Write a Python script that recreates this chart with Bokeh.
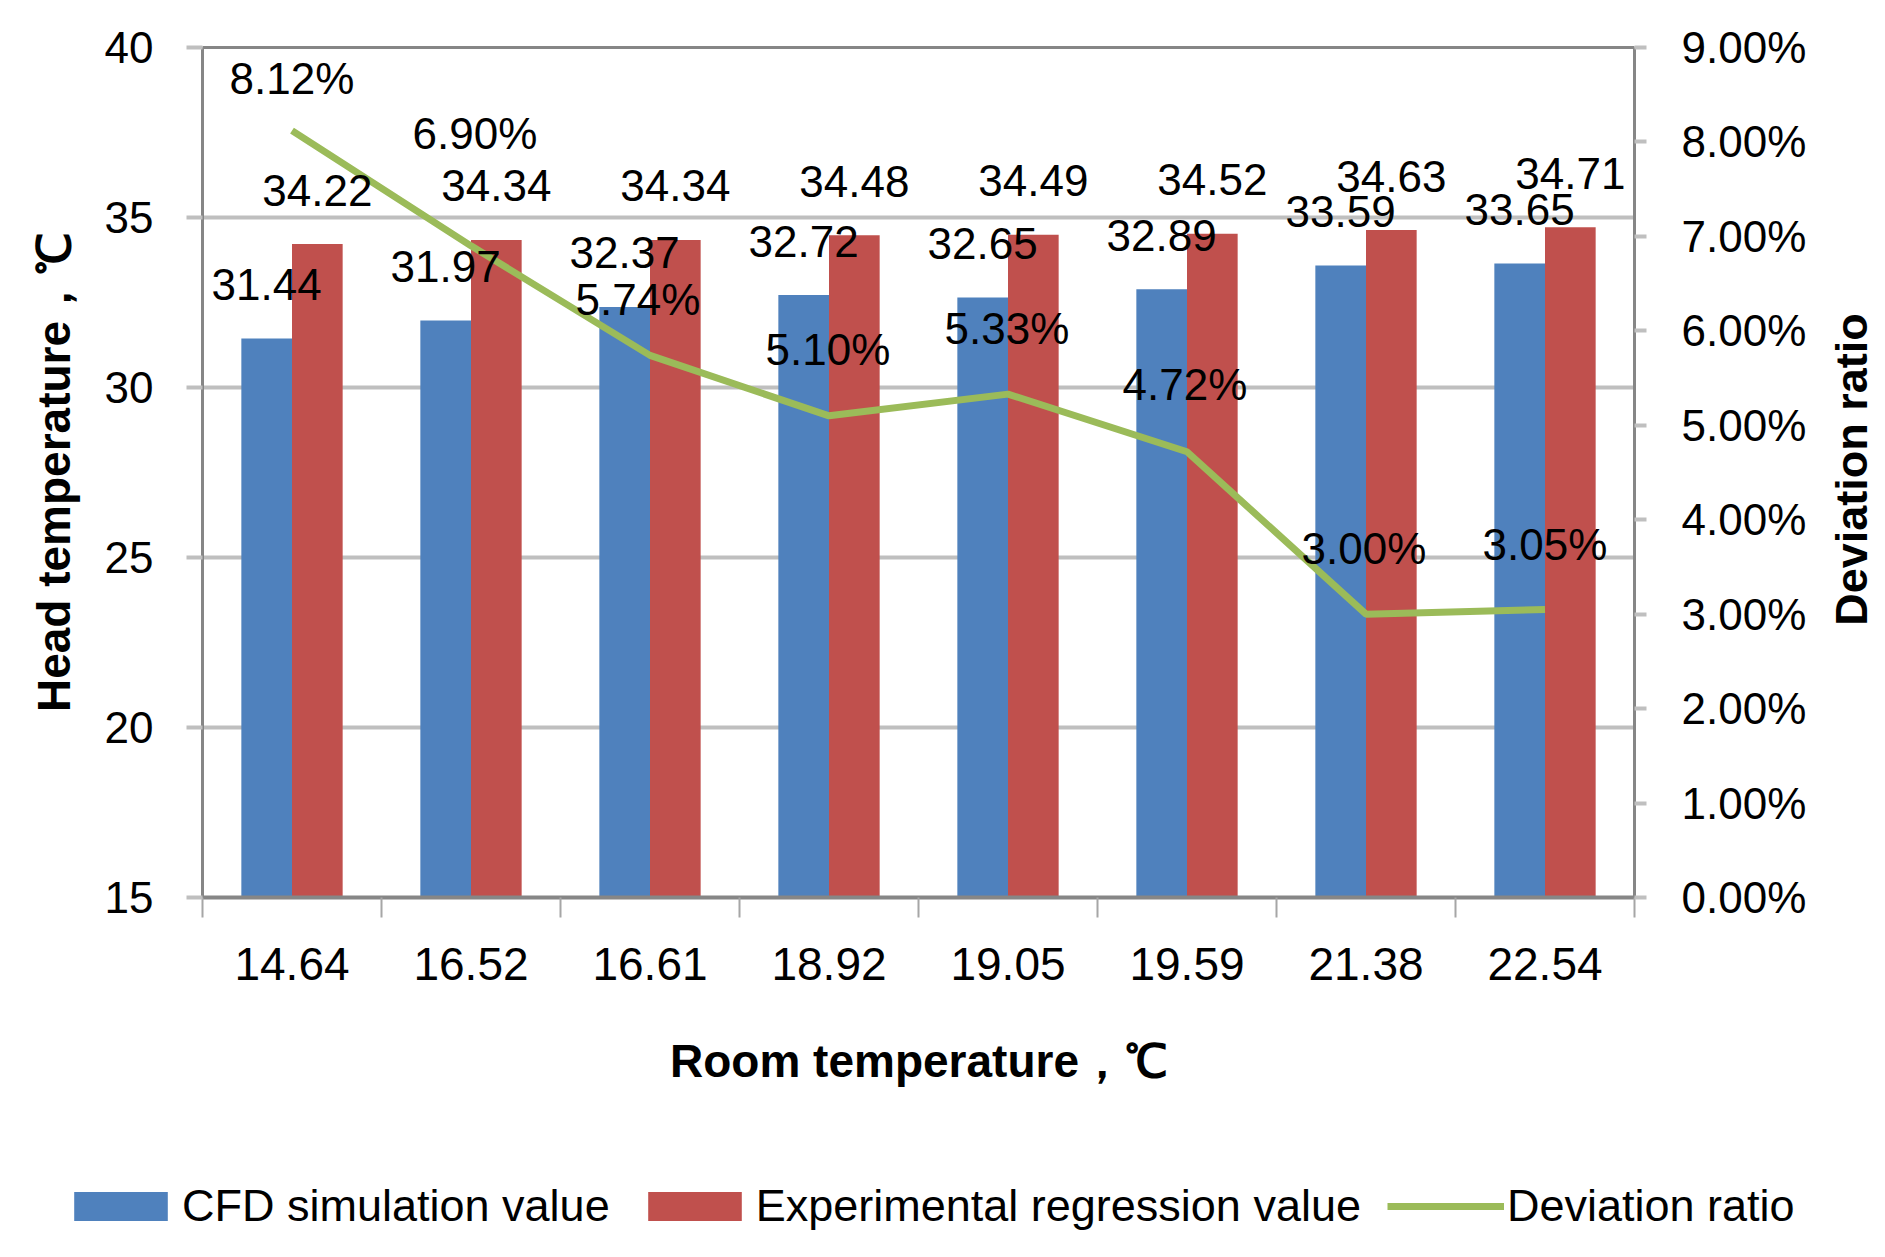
from bokeh.plotting import figure
from bokeh.models import (Range1d, LinearAxis, FixedTicker, PrintfTickFormatter,
                          Legend, LegendItem, ColumnDataSource)
from bokeh.transform import dodge
from bokeh.embed import file_html
from bokeh.resources import INLINE
import math

# ---------------- data ----------------
room_temps = ["14.64", "16.52", "16.61", "18.92", "19.05", "19.59", "21.38", "22.54"]
cfd_values = [31.44, 31.97, 32.37, 32.72, 32.65, 32.89, 33.59, 33.65]
exp_values = [34.22, 34.34, 34.34, 34.48, 34.49, 34.52, 34.63, 34.71]
deviation_pct = [8.12, 6.90, 5.74, 5.10, 5.33, 4.72, 3.00, 3.05]

temp_ticks = [15, 20, 25, 30, 35, 40]
pct_ticks = [0, 1, 2, 3, 4, 5, 6, 7, 8, 9]

series_names = ["CFD simulation value", "Experimental regression value", "Deviation ratio"]

# label placement (screen px) of the deviation labels, as placed in the original
dev_label_dx = [0, 4, -12, -1, -1, -2, -2, 0]
dev_label_dy = [-52, -112, -56, -66, -66, -67, -66, -65]

FONT = "Liberation Sans"
BLUE, RED, GREEN = "#4f81bd", "#c0504d", "#9bbb59"
AXIS_DARK, GRID = "#868686", "#bfbfbf"
TOTAL_W = 1870

n = len(room_temps)
xc = [i + 0.5 for i in range(n)]

src = ColumnDataSource(dict(
    x=xc, cfd=cfd_values, exp=exp_values, dev=deviation_pct,
    cfd_lbl=[f"{v:.2f}" for v in cfd_values],
    exp_lbl=[f"{v:.2f}" for v in exp_values],
    dev_lbl=[f"{v:.2f}%" for v in deviation_pct],
    dx=dev_label_dx, dy=dev_label_dy,
))

p = figure(frame_width=1432, frame_height=850,
           min_border_left=202, min_border_right=236,
           min_border_top=47, min_border_bottom=233,
           x_range=Range1d(0, n), y_range=Range1d(temp_ticks[0], temp_ticks[-1]),
           output_backend="svg", toolbar_location=None)
p.outline_line_color = None
p.background_fill_color = "white"
p.border_fill_color = "white"

p.extra_y_ranges = {"pct": Range1d(pct_ticks[0], pct_ticks[-1])}

# ---- bottom (category) axis ----
xa = p.xaxis[0]
xa.ticker = FixedTicker(ticks=xc, minor_ticks=list(range(n + 1)))
xa.major_label_overrides = {x: c for x, c in zip(xc, room_temps)}
xa.major_tick_out = 0
xa.major_tick_in = 0
xa.minor_tick_out = 20
xa.minor_tick_in = 0
xa.minor_tick_line_color = "#a6a6a6"
xa.minor_tick_line_width = 2
xa.axis_line_color = AXIS_DARK
xa.axis_line_width = 4
xa.major_label_standoff = 30
xa.major_label_text_font = FONT
xa.major_label_text_font_size = "46px"
xa.major_label_text_color = "black"
xa.axis_label = "Room temperature，℃"
xa.axis_label_text_font = FONT
xa.axis_label_text_font_style = "bold"
xa.axis_label_text_font_size = "46px"
xa.axis_label_text_color = "black"
xa.axis_label_standoff = 52

# ---- left axis ----
ya = p.yaxis[0]
ya.ticker = FixedTicker(ticks=temp_ticks)
ya.major_tick_out = 16
ya.major_tick_in = 0
ya.major_tick_line_color = GRID
ya.major_tick_line_width = 4
ya.minor_tick_out = 0
ya.minor_tick_in = 0
ya.axis_line_color = AXIS_DARK
ya.axis_line_width = 3
ya.major_label_standoff = 33
ya.major_label_text_font = FONT
ya.major_label_text_font_size = "44px"
ya.major_label_text_color = "black"
ya.axis_label = "Head temperature，℃"
ya.axis_label_text_font = FONT
ya.axis_label_text_font_style = "bold"
ya.axis_label_text_font_size = "46px"
ya.axis_label_text_color = "black"
ya.axis_label_standoff = 22

# ---- right axis ----
ra = LinearAxis(y_range_name="pct", ticker=FixedTicker(ticks=pct_ticks),
                formatter=PrintfTickFormatter(format="%.2f%%"))
ra.major_tick_out = 12
ra.major_tick_in = 0
ra.major_tick_line_color = GRID
ra.major_tick_line_width = 4
ra.minor_tick_out = 0
ra.minor_tick_in = 0
ra.axis_line_color = AXIS_DARK
ra.axis_line_width = 3
ra.major_label_standoff = 35
ra.major_label_text_font = FONT
ra.major_label_text_font_size = "44px"
ra.major_label_text_color = "black"
p.add_layout(ra, "right")

# right axis title: a label-only axis whose single label reads bottom-to-top
title_pos = 2.877
rt = LinearAxis(y_range_name="pct", ticker=FixedTicker(ticks=[title_pos]),
                major_label_overrides={title_pos: "Deviation ratio"},
                major_label_orientation=math.pi / 2,
                axis_line_alpha=0, major_tick_out=0, major_tick_in=0,
                minor_tick_out=0, minor_tick_in=0, major_label_standoff=42)
rt.major_label_text_font = FONT
rt.major_label_text_font_style = "bold"
rt.major_label_text_font_size = "45px"
rt.major_label_text_color = "black"
p.add_layout(rt, "right")

# ---- top border line ----
ta = LinearAxis(ticker=FixedTicker(ticks=[]), axis_line_color=AXIS_DARK, axis_line_width=3,
                major_tick_out=0, major_tick_in=0, minor_tick_out=0, minor_tick_in=0,
                major_label_text_font_size="0px")
p.add_layout(ta, "above")

# ---- grid ----
p.xgrid.visible = False
p.ygrid.ticker = FixedTicker(ticks=temp_ticks[1:-1])
p.ygrid.grid_line_color = GRID
p.ygrid.grid_line_width = 4

# ---- bars ----
bw = 0.283
b1 = p.vbar(x=dodge("x", -bw / 2, range=p.x_range), top="cfd", bottom=temp_ticks[0], width=bw,
            source=src, fill_color=BLUE, line_color=None)
b2 = p.vbar(x=dodge("x", bw / 2, range=p.x_range), top="exp", bottom=temp_ticks[0], width=bw,
            source=src, fill_color=RED, line_color=None)

# ---- deviation line ----
ln = p.line(x="x", y="dev", y_range_name="pct", source=src, line_color=GREEN, line_width=7)

# ---- data labels ----
lbl_kw = dict(source=src, text_font_size="44px", text_color="black",
              text_align="center", text_baseline="middle")
p.text(x=dodge("x", -bw / 2, range=p.x_range), y="cfd", text="cfd_lbl", y_offset=-54,
       text_font={"value": FONT}, **lbl_kw)
p.text(x=dodge("x", bw / 2, range=p.x_range), y="exp", text="exp_lbl", y_offset=-54,
       text_font={"value": FONT}, **lbl_kw)
p.text(x="x", y="dev", y_range_name="pct", text="dev_lbl", x_offset="dx", y_offset="dy",
       text_font={"value": FONT}, **lbl_kw)

# ---- legend strip (second root, directly below the chart) ----
LEG_H = 111
pl = figure(width=TOTAL_W, height=LEG_H, min_border=0,
            x_range=Range1d(0, 1), y_range=Range1d(0, 1),
            x_axis_location=None, y_axis_location=None,
            output_backend="svg", toolbar_location=None)
pl.outline_line_color = None
pl.grid.visible = False
pl.background_fill_color = "white"
pl.border_fill_color = "white"
# key renderers: the same styles as the chart series, kept outside the strip's visible range
k1 = pl.vbar(x=[-5], top=[-5], bottom=[-6], width=1, fill_color=BLUE, line_color=None)
k2 = pl.vbar(x=[-5], top=[-5], bottom=[-6], width=1, fill_color=RED, line_color=None)
k3 = pl.line(x=[-6, -5], y=[-5, -5], line_color=GREEN, line_width=7)
legend = Legend(items=[LegendItem(label=series_names[0], renderers=[k1]),
                       LegendItem(label=series_names[1], renderers=[k2]),
                       LegendItem(label=series_names[2], renderers=[k3])],
                orientation="horizontal", location=(62, 9),
                glyph_width=117, glyph_height=36, label_standoff=3, spacing=26,
                padding=0, margin=0, border_line_color=None, background_fill_alpha=0,
                label_text_font=FONT, label_text_font_size="45px", label_text_color="black")
pl.add_layout(legend)

open("out.html", "w").write(file_html([p, pl], INLINE))
